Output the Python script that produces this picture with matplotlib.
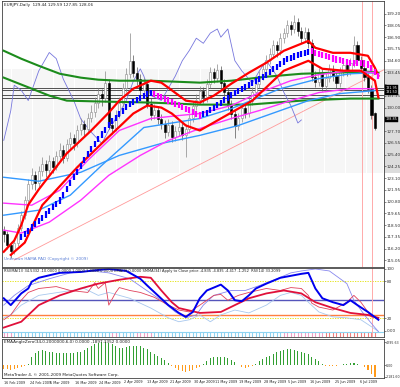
import matplotlib
matplotlib.use('Agg')
import matplotlib.pyplot as plt
from matplotlib.patches import Rectangle
from matplotlib import font_manager
import numpy as np

_names = {f.name for f in font_manager.fontManager.ttflist}
NARROW = 'Liberation Sans Narrow' if 'Liberation Sans Narrow' in _names else 'DejaVu Sans'
plt.rcParams['font.family'] = [NARROW, 'DejaVu Sans']

# ---------------- DATA ----------------
opens = [117.9,117.6,116.6,116.0,116.8,118.2,119.5,121.0,122.5,123.4,122.6,123.8,124.5,123.9,124.8,124.2,125.3,125.9,125.1,126.4,
         127.0,126.5,127.8,128.4,127.9,129.0,129.6,130.5,131.3,130.9,132.4,128.3,128.0,129.3,130.5,131.9,133.3,134.6,133.4,132.8,
         131.7,132.3,130.4,129.3,129.8,128.9,128.4,127.6,128.3,127.1,127.7,128.1,127.3,127.9,129.0,130.2,130.8,131.6,131.0,132.3,
         133.5,132.9,133.7,132.4,131.5,130.3,129.4,128.2,129.0,130.0,129.5,130.7,131.5,132.3,133.1,133.8,134.7,135.3,136.1,135.6,
         136.8,137.3,138.1,137.7,138.4,137.5,136.8,137.4,136.3,133.0,132.5,133.4,132.1,132.9,133.8,133.1,132.4,133.5,134.2,133.6,
         134.4,136.1,134.7,133.9,133.0,131.8,129.44]
highs = [118.4,117.9,116.9,117.2,118.6,119.9,121.4,123.0,124.1,123.8,124.3,125.2,124.9,125.4,125.2,125.8,126.5,126.3,126.9,127.6,
         127.4,128.3,129.0,128.8,129.5,130.3,131.0,131.9,131.8,133.6,132.8,128.9,129.8,131.0,132.4,133.9,137.3,135.2,134.0,133.3,
         132.9,132.7,130.9,130.4,130.2,129.4,128.8,128.9,128.7,128.2,128.7,128.5,128.4,129.5,130.7,131.3,132.1,132.0,132.8,134.0,
         133.9,134.3,134.1,132.8,131.9,130.8,129.8,129.5,130.5,130.4,131.2,132.0,132.8,133.6,134.3,135.2,135.8,136.6,136.5,137.3,
         137.8,138.6,138.5,139.1,138.8,137.9,137.9,137.8,136.7,133.6,133.9,133.8,133.4,134.3,134.2,133.5,134.0,134.7,134.6,134.9,
         137.0,136.5,135.1,134.3,133.4,132.2,129.59]
lows = [116.9,116.2,115.3,115.7,116.5,117.9,119.1,120.6,122.0,121.9,122.2,123.3,123.2,123.5,123.6,123.9,124.9,124.6,124.8,126.0,
        125.9,126.2,127.3,127.2,127.5,128.6,129.1,130.0,130.2,130.6,127.9,127.4,127.7,129.0,130.1,131.5,132.9,133.0,132.2,131.2,
        131.3,130.0,128.8,128.9,128.4,127.9,127.0,127.2,126.6,126.7,127.2,126.8,125.2,127.5,128.6,129.8,130.4,130.5,130.6,131.9,
        132.4,132.5,131.9,131.0,129.8,128.9,127.0,127.8,128.6,129.0,129.1,130.3,131.1,131.9,132.7,133.4,134.3,134.9,135.0,135.2,
        136.3,136.9,137.1,137.3,137.0,136.3,136.4,135.8,132.6,132.0,132.1,131.6,131.7,132.5,132.6,131.9,132.0,133.1,133.1,133.2,
        134.0,134.3,133.5,132.6,131.4,128.9,127.85]
closes = [117.6,116.6,116.0,116.8,118.2,119.5,121.0,122.5,123.4,122.6,123.8,124.5,123.9,124.8,124.2,125.3,125.9,125.1,126.4,127.0,
          126.5,127.8,128.4,127.9,129.0,129.6,130.5,131.3,130.9,132.4,128.3,128.0,129.3,130.5,131.9,133.3,134.6,133.4,132.8,131.7,
          132.3,130.4,129.3,129.8,128.9,128.4,127.6,128.3,127.1,127.7,128.1,127.3,127.9,129.0,130.2,130.8,131.6,131.0,132.3,133.5,
          132.9,133.7,132.4,131.5,130.3,129.4,128.2,129.0,130.0,129.5,130.7,131.5,132.3,133.1,133.8,134.7,135.3,136.1,135.6,136.8,
          137.3,138.1,137.7,138.4,137.5,136.8,137.4,136.3,133.0,132.5,133.4,132.1,132.9,133.8,133.1,132.4,133.5,134.2,133.6,134.4,
          136.1,134.7,133.9,133.0,131.8,129.3,128.06]

# moving-average style lines: (bar index, price)
green_up_x = [0,5,10,16,22,27,33,42,56,65,75,85,94,104,107]
green_up_y = [135.57,134.79,134.10,133.32,132.94,132.74,132.64,132.64,132.45,132.64,133.03,133.32,133.42,133.52,133.42]
green_lo_x = [0,8,13,18,28,42,56,70,85,99,107]
green_lo_y = [132.94,131.86,131.18,130.69,130.60,130.50,130.30,130.30,130.69,130.89,130.89]
red_up_x = [0,3,5,7,10,18,25,30,33,37,42,45,47,52,56,60,65,70,75,80,87,89,94,99,104,106,107]
red_up_y = [115.9,117.0,118.5,120.5,122.0,125.53,127.77,129.52,130.69,131.86,132.64,132.45,131.96,130.69,130.50,131.18,
            132.35,133.42,134.40,135.57,136.54,135.86,135.37,135.37,135.08,133.91,133.13]
red_lo_x = [2,6,11,21,28,34,37,41,45,48,52,56,62,67,71,80,87,91,97,102,106,107]
red_lo_y = [115.59,116.8,120.46,124.17,126.50,128.45,129.43,130.21,130.01,129.43,128.26,127.77,128.94,129.91,130.69,
            133.62,134.59,133.81,133.62,133.62,132.64,130.99]
mag_up_x = [0,8,16,24,33,42,50,56,65,73,82,90,99,106]
mag_up_y = [120.66,120.46,121.92,124.85,127.77,128.94,129.23,129.43,130.21,131.48,132.64,133.23,133.62,133.42]
mag_lo_x = [0,5,13,22,30,39,47,56,65,73,82,90,99,106]
mag_lo_y = [118.02,117.73,118.80,120.95,123.38,125.33,126.79,127.96,128.94,129.72,130.69,131.48,131.86,131.86]
lb_up_x = [0,10,19,28,40,56,65,79,90,99,106]
lb_up_y = [119.48,119.97,121.44,124.36,128.06,128.94,129.91,131.86,132.84,133.32,133.42]
lb_lo_x = [0,10,22,33,45,56,67,79,87,96,106]
lb_lo_y = [123.19,122.80,123.68,125.33,126.50,127.29,128.26,129.72,130.69,131.38,131.67]

hama_x = list(range(5, 108))
hama_y = [117.34,117.66,117.96,118.28,118.58,118.89,119.21,119.55,119.89,120.24,120.58,120.92,121.47,122.04,122.61,123.18,
          123.74,124.32,124.88,125.45,125.99,126.44,126.90,127.37,127.83,128.29,128.68,129.02,129.36,129.70,130.04,130.39,
          130.58,130.76,130.95,131.14,131.33,131.44,131.30,131.15,131.01,130.86,130.70,130.56,130.39,130.23,130.07,129.90,
          129.75,129.58,129.42,129.24,129.40,129.50,129.75,129.99,130.23,130.49,130.73,130.98,131.20,131.41,131.61,131.81,
          132.01,132.21,132.42,132.62,132.82,133.02,133.23,133.50,133.75,134.01,134.27,134.52,134.77,134.90,135.01,135.13,
          135.25,135.36,135.48,135.51,135.39,135.27,135.16,135.04,134.92,134.81,134.71,134.63,134.55,134.47,134.40,134.38,
          134.36,134.34,134.32,134.22,133.85,133.49,133.12]
hama_dir = (['up'] * 38 + ['dn'] * 14 + ['up'] * 31 + ['dn'] * 20)

lav_x = [0,2,3,5,7,10,13,15,17,20,22,25,28,30,33,35,37,39,40,42,45,47,49,51,53,55,57,59,61,62,64,66,68,71,73,75,78,80,82,84,85]
lav_y = [126.8,129.7,132.2,131.7,130.7,133.6,135.4,134.8,132.8,130.7,128.9,127.6,126.5,127.8,129.5,130.7,132.6,133.8,133.1,
         131.2,130.7,131.9,133.1,134.6,135.6,136.8,136.3,137.3,137.7,136.9,137.7,134.6,133.6,132.4,133.6,134.6,133.1,131.5,
         130.2,128.5,128.8]

trend_x = [3, 108.5]
trend_y = [115.1, 133.7]
hlines_main = [131.95, 131.76, 131.27, 130.98]
vlines_main = [102.4, 105.2]
price_boxes = [131.95, 131.50, 128.85]

price_ticks = [139.20,138.05,136.90,135.75,134.60,133.45,132.30,131.15,130.00,128.85,127.70,126.55,125.40,124.25,
               123.10,121.95,120.80,119.65,118.50,117.35,116.20,115.05]

# RSI panel
rsi_blue_x = [0,2,5,7,8,10,16,22,27,30,35,39,41,44,47,50,52,54,56,58,60,62,64,66,68,70,72,75,79,85,87,89,91,94,97,99,101,104,107]
rsi_blue_y = [52.4,41.3,60.3,68.3,79.4,85.7,93.7,95.2,98.4,100,96.8,84.1,73.0,57.1,41.3,28.6,22.2,30.2,52.4,65.1,69.8,74.6,
              65.1,49.2,47.6,57.1,68.3,76.2,85.7,92.1,93.7,68.3,52.4,46.0,41.3,49.2,41.3,30.2,17.5]
rsi_red_x = [0,5,10,16,22,27,33,39,42,45,48,50,56,62,66,70,75,80,85,89,94,99,104,107]
rsi_red_y = [4.8,14.3,41.3,57.1,68.3,76.2,82.5,87.3,85.7,65.1,46.0,36.5,28.6,30.2,41.3,52.4,60.3,65.1,60.3,46.0,36.5,28.6,25.4,20.6]
rsi_thin_x = [0,2,5,7,10,15,19,24,26,27,29,30,32,33,36,39,43,47,50,53,56,60,62,64,67,70,75,79,82,85,87,88,90,94,98,100,102,104,105,107]
rsi_thin_y = [17.5,25.4,49.2,61.9,68.3,71.4,65.1,61.9,77.8,68.3,77.8,41.3,61.9,69.8,65.1,61.9,54.0,41.3,33.3,30.2,41.3,57.1,
              58.7,49.2,57.1,61.9,68.3,65.1,69.8,68.3,57.1,44.4,38.1,33.3,46.0,57.1,46.0,30.2,22.2,20.6]
rsi_lav_x = [0,3,7,13,19,25,30,36,40,45,49,52,55,57,60,65,69,73,78,82,85,89,93,98,100,103,106,107]
rsi_lav_y = [41.3,57.1,73.0,84.1,93.7,96.8,93.7,84.1,68.3,49.2,30.2,20.6,25.4,41.3,57.1,65.1,65.1,73.0,84.1,93.7,96.8,100,
             96.8,76.2,49.2,25.4,4.8,-1.6]
rsi_pale_x = [0,2,5,10,23,27,30,36,42,47,50,53,56,59,62,66,70,75,79,82,85,87,90,94,98,102,105,107]
rsi_pale_y = [20.6,25.4,41.3,57.1,68.3,57.1,61.9,52.4,36.5,20.6,14.3,17.5,25.4,14.3,25.4,33.3,28.6,41.3,57.1,61.9,57.1,46.0,
              30.2,22.2,20.6,17.5,6.3,-1.6]
strip_colors = (['p'] * 3 + ['b'] * 28 + ['p'] * 2 + ['b'] * 5 + ['p'] * 5 + ['b'] * 37 + ['p'] * 12 + ['r'] * 15)

# Angle histogram
angle_vals = [-700,-800,-900,-800,-600,-350,-100,300,1500,2300,2700,2800,2700,2500,2400,2300,2300,2250,2250,2300,
              2350,2400,2500,2900,3300,3600,3900,4100,4250,4295,4200,3900,3500,3200,3200,3400,3600,3650,3600,3500,
              3300,3000,2500,2100,1700,1300,900,400,-200,-600,-900,-1100,-1200,-1100,-900,-600,-300,200,800,1300,
              1500,1600,1600,1500,1300,1000,600,100,-400,-500,-400,-100,300,800,1200,1500,1800,2100,2400,2700,
              2900,3000,2950,2850,2700,2500,2300,2000,1600,1200,700,300,-100,-200,-150,-100,100,200,300,400,
              400,300,100,-300,-900,-1600,-2181]

date_pos = [0, 7.5, 13.3, 20.4, 27.3, 34.4, 41, 47.6, 54.4, 60.5, 67.2, 74.3, 81.3, 87.6, 94.7, 101.8]
date_labels = ['16 Feb 2009', '24 Feb 2009', '5 Mar 2009', '16 Mar 2009', '24 Mar 2009', '2 Apr 2009', '13 Apr 2009',
               '21 Apr 2009', '30 Apr 2009', '11 May 2009', '19 May 2009', '28 May 2009', '5 Jun 2009', '16 Jun 2009',
               '25 Jun 2009', '6 Jul 2009']

# ---------------- FIGURE ----------------
W, H = 400, 387
fig = plt.figure(figsize=(W / 100, H / 100), dpi=100)
fig.patch.set_facecolor('white')


def rect(x0, y0, x1, y1):
    return [x0 / W, 1 - y1 / H, (x1 - x0) / W, (y1 - y0) / H]


ax = fig.add_axes(rect(2, 1, 384, 267))
rs = fig.add_axes(rect(2, 268, 384, 337), sharex=ax)
hs = fig.add_axes(rect(2, 339, 384, 378), sharex=ax)

XMIN, XMAX = -0.5, 108.6
FS = 3.0

for a in (ax, rs, hs):
    a.set_xlim(XMIN, XMAX)
    for s in a.spines.values():
        s.set_color('#404040')
        s.set_linewidth(0.6)
    a.yaxis.tick_right()
    a.tick_params(axis='y', labelsize=FS, length=1.2, width=0.4, pad=0.8, colors='#303030')
    a.tick_params(axis='x', length=0, labelbottom=False)

# ----- main panel -----
ax.set_ylim(114.41, 140.44)
ax.set_yticks(price_ticks)
# labels hidden where a price tag covers them (as on the MT4 scale)
ax.set_yticklabels(['' if t in (132.30, 128.85) else '%.2f' % t for t in price_ticks])

# light-grey striped zone (also behind the price scale)
ax.vlines(np.arange(XMIN, XMAX, 0.6), 123.6, 133.8, color='#d8d8d8', lw=0.3, zorder=0)
y_top = ax.transData.transform((0, 133.8))[1]
y_bot = ax.transData.transform((0, 123.6))[1]
fig.patches.append(Rectangle((384 / W, y_bot / H), 16 / W, (y_top - y_bot) / H, transform=fig.transFigure,
                             facecolor='#dcdcdc', edgecolor='none', zorder=-1))

for yv in hlines_main:
    ax.axhline(yv, color='#505050', lw=0.7, zorder=1)

ax.plot(trend_x, trend_y, color='#ff9a9a', lw=0.6, zorder=1)
for xv in vlines_main:
    ax.axvline(xv, color='#ffaaaa', lw=0.7, zorder=1)

ax.plot(lav_x, lav_y, color='#7777dd', lw=0.6, zorder=2)

# candles
n = len(closes)
for i in range(n):
    o, h, l, c = opens[i], highs[i], lows[i], closes[i]
    bull = c >= o
    ax.vlines(i, l, h, color='#555555' if not bull else '#888888', lw=0.5, zorder=3)
    lo_b, hi_b = min(o, c), max(o, c)
    hgt = max(hi_b - lo_b, 0.05)
    ax.add_patch(Rectangle((i - 0.32, lo_b), 0.64, hgt, facecolor='white' if bull else 'black',
                           edgecolor='#888888' if bull else 'black', lw=0.4, zorder=4))

ax.plot(green_up_x, green_up_y, color='#1c8c1c', lw=1.5, zorder=5)
ax.plot(green_lo_x, green_lo_y, color='#1c8c1c', lw=1.5, zorder=5)
ax.plot(lb_up_x, lb_up_y, color='#3399ff', lw=1.0, zorder=5)
ax.plot(lb_lo_x, lb_lo_y, color='#3399ff', lw=1.0, zorder=5)
ax.plot(mag_up_x, mag_up_y, color='#ff33ff', lw=1.0, zorder=5)
ax.plot(mag_lo_x, mag_lo_y, color='#ff33ff', lw=1.0, zorder=5)
ax.plot(red_up_x, red_up_y, color='#ff0000', lw=1.6, zorder=6)
ax.plot(red_lo_x, red_lo_y, color='#ff0000', lw=1.6, zorder=6)

for xv, yv, d in zip(hama_x, hama_y, hama_dir):
    ax.vlines(xv, yv - 0.3, yv + 0.3, color='#0000ff' if d == 'up' else '#ff00ff', lw=1.6, zorder=7)

# black price tags on the scale
for pb in price_boxes:
    ax.annotate('%.2f' % pb, xy=(1.0, pb), xycoords=('axes fraction', 'data'), xytext=(1.2, 0),
                textcoords='offset points', fontsize=2.4, color='white', va='center', ha='left',
                bbox=dict(boxstyle='square,pad=0.08', fc='black', ec='black', lw=0.3), annotation_clip=False)

ax.text(0.004, 0.993, 'EURJPY,Daily  129.44 129.59 127.85 128.06', transform=ax.transAxes,
        fontsize=FS, va='top', ha='left', color='#202020')
ax.text(0.004, 0.022, 'Unknown HAMA PAD (Copyright \u00a9 2009)', transform=ax.transAxes,
        fontsize=FS, va='bottom', ha='left', color='#5b7fd6')

# ----- RSI panel -----
rs.set_ylim(-10.5, 101.6)
rs.set_yticks([100, 80, 20, 0])
rs.set_yticklabels(['100', '80', '20', '0.00'])
rs.axhline(80, color='#e0e000', lw=0.6, ls=(0, (1.5, 1.5)))
rs.axhline(20, color='#e0e000', lw=0.6, ls=(0, (1.5, 1.5)))
rs.axhline(50, color='#5555bb', lw=1.0)
rs.axhline(25, color='#ff8040', lw=1.0)
cmap = {'b': '#8fd3f0', 'p': '#f0a0c8', 'r': '#f08080'}
for i, cc in enumerate(strip_colors):
    rs.vlines(i, -10, -2, color=cmap[cc], lw=0.8)
rs.axhline(-2, color='#8fd3f0', lw=0.8)
rs.axvline(vlines_main[1], color='#ffaaaa', lw=0.7)
rs.plot(rsi_pale_x, rsi_pale_y, color='#a8c8ee', lw=0.6)
rs.plot(rsi_lav_x, rsi_lav_y, color='#8888ee', lw=0.6)
rs.plot(rsi_thin_x, rsi_thin_y, color='#e0405a', lw=0.6)
rs.plot(rsi_red_x, rsi_red_y, color='#e0103a', lw=1.3)
rs.plot(rsi_blue_x, rsi_blue_y, color='#0000ee', lw=1.4)
rs.text(0.004, 0.985, 'RSI(MA(1)) 34.5332 -10.0000 0.0000 1.0000 1.0000 0.0000 EMA(9) 0.0000 SMMA(34) Apply to Close price '
        '-4.835 -4.835 -4.417 -1.252  RSI(14) 33.2099', transform=rs.transAxes, fontsize=2.6, va='top', ha='left',
        color='#202020', clip_on=True)

# ----- histogram panel -----
hs.set_ylim(-2400, 4900)
hs.set_yticks([4295.634, 0, -2181.60])
hs.set_yticklabels(['4295.63', '0.00', '-2181.60'])
hs.tick_params(axis='y', labelsize=2.3, pad=0.4)
xs = np.arange(len(angle_vals))
cols = ['#33a033' if v >= 0 else '#ff9a1a' for v in angle_vals]
hs.bar(xs, angle_vals, width=0.35, color=cols)
hs.text(0.004, 0.97, 'EMAAngleZero(34,0.2000000,6,0) 0.0000 -1897.3352 0.0000', transform=hs.transAxes,
        fontsize=FS, va='top', ha='left', color='#202020')
hs.text(0.004, 0.03, 'MetaTrader 4, \u00a9 2001-2009 MetaQuotes Software Corp.', transform=hs.transAxes,
        fontsize=FS, va='bottom', ha='left', color='#202020')

# date labels
for p, lab in zip(date_pos, date_labels):
    fig.text((2 + 3.5 * (p + 0.5)) / W, 1 - 382.5 / H, lab, fontsize=2.4, ha='left', va='center', color='#202020')

fig.savefig('out.png', dpi=100, facecolor='white')
